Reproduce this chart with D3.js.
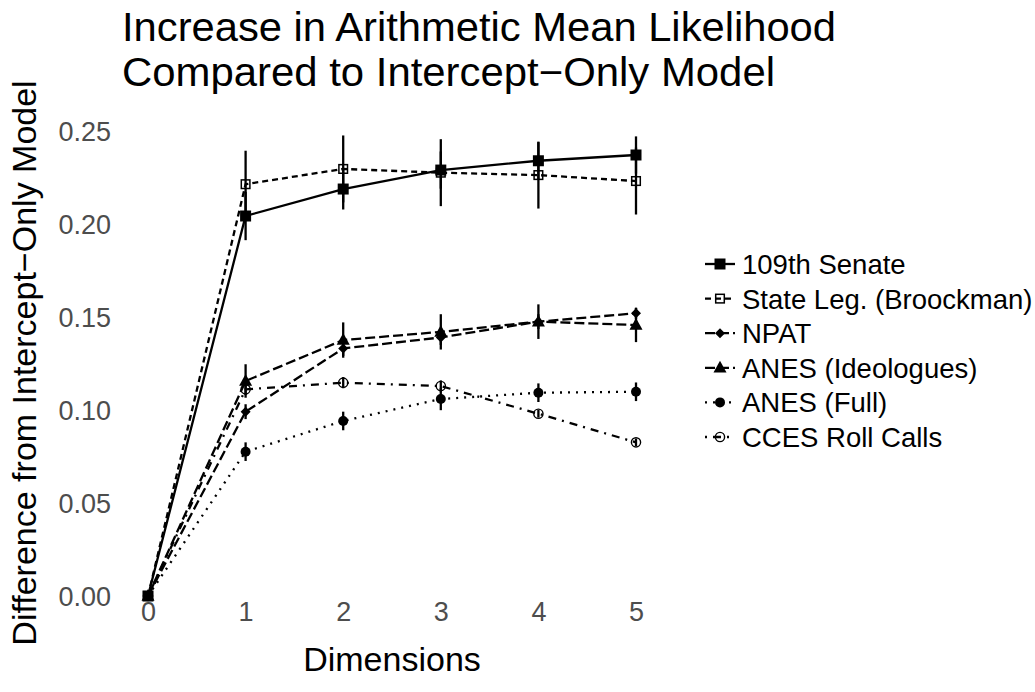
<!DOCTYPE html>
<html>
<head>
<meta charset="utf-8">
<script src="https://cdn.jsdelivr.net/npm/d3@7"></script>
<style>
  html, body { margin: 0; padding: 0; background: #fff; }
  svg { display: block; }
  text { font-family: "Liberation Sans", Arial, Helvetica, sans-serif; }
</style>
</head>
<body>
<svg id="chart" width="1035" height="692"></svg>
<script>
// ---- data ----
const dims = [0, 1, 2, 3, 4, 5];
const seriesNames = ["109th Senate", "State Leg. (Broockman)", "NPAT", "ANES (Ideologues)", "ANES (Full)", "CCES Roll Calls"];
const senate      = [0, 0.2043, 0.2188, 0.2290, 0.2340, 0.2371];
const senateErr   = [0, 0.013, 0.011, 0.010, 0.010, 0.010];
const stateLeg    = [0, 0.2214, 0.2296, 0.2276, 0.2263, 0.2231];
const stateLegErr = [0, 0.018, 0.018, 0.018, 0.018, 0.018];
const npat        = [0, 0.0991, 0.1331, 0.1390, 0.1475, 0.1520];
const npatErr     = [0, 0.004, 0.004, 0.004, 0.004, 0.003];
const anesIdeo    = [0, 0.1156, 0.1376, 0.1420, 0.1475, 0.1457];
const anesIdeoErr = [0, 0.009, 0.0095, 0.0095, 0.0093, 0.0092];
const anesFull    = [0, 0.0776, 0.0941, 0.1059, 0.1093, 0.1098];
const anesFullErr = [0, 0.005, 0.005, 0.006, 0.005, 0.005];
const cces        = [0, 0.1111, 0.1147, 0.1129, 0.0980, 0.0826];
const ccesErr     = [0, 0.003, 0.003, 0.003, 0.002, 0.002];
const yTicks = [0, 0.05, 0.10, 0.15, 0.20, 0.25];
const xTicks = [0, 1, 2, 3, 4, 5];

const values = [senate, stateLeg, npat, anesIdeo, anesFull, cces];
const errors = [senateErr, stateLegErr, npatErr, anesIdeoErr, anesFullErr, ccesErr];
const dashes = [null, "6,4", "10,4", "10,4", "2,6", "2,6,8,6"];
const shapes = ["square", "openSquare", "diamond", "triangle", "circle", "openCircle"];

const series = seriesNames.map((name, i) => ({
  name, dash: dashes[i], shape: shapes[i],
  pts: dims.map((d, j) => ({ x: d, y: values[i][j], e: errors[i][j] }))
}));

// ---- layout ----
const svg = d3.select("#chart");
const x = d3.scaleLinear().domain([-0.25, 5.25]).range([123.6, 660.4]);
const y = d3.scaleLinear().domain([0, 0.25]).range([596, 131]);
const LW = 2.3;

// title
svg.append("text").attr("x", 122).attr("y", 41).attr("font-size", 40).attr("fill", "#000")
  .attr("textLength", 714).attr("lengthAdjust", "spacingAndGlyphs")
  .text("Increase in Arithmetic Mean Likelihood");
svg.append("text").attr("x", 122).attr("y", 86).attr("font-size", 40).attr("fill", "#000")
  .attr("textLength", 653).attr("lengthAdjust", "spacingAndGlyphs")
  .text("Compared to Intercept\u2212Only Model");

// axes (labels only, no lines)
const yAxis = d3.axisLeft(y).tickValues(yTicks).tickFormat(d3.format(".2f")).tickSize(0).tickPadding(0);
const gy = svg.append("g").attr("transform", "translate(111,0)").call(yAxis);
gy.select(".domain").remove();
gy.selectAll("text").attr("font-size", 27).attr("fill", "#4d4d4d")
  .attr("font-family", "Liberation Sans, Arial, sans-serif").attr("dy", "0.36em");

const xAxis = d3.axisBottom(x).tickValues(xTicks).tickFormat(d3.format("d")).tickSize(0).tickPadding(0);
const gx = svg.append("g").attr("transform", "translate(0,601)").call(xAxis);
gx.select(".domain").remove();
gx.selectAll("text").attr("font-size", 27).attr("fill", "#4d4d4d")
  .attr("font-family", "Liberation Sans, Arial, sans-serif").attr("dy", "0.75em");

// axis titles
svg.append("text").attr("x", 392).attr("y", 671).attr("text-anchor", "middle")
  .attr("font-size", 34).attr("fill", "#000").text("Dimensions");
svg.append("text").attr("transform", "translate(36,363) rotate(-90)").attr("text-anchor", "middle")
  .attr("font-size", 34).attr("fill", "#000").text("Difference from Intercept\u2212Only Model");

// ---- marks ----
const line = d3.line().x(d => x(d.x)).y(d => y(d.y));
const plot = svg.append("g");

series.forEach(s => {
  plot.append("path").datum(s.pts).attr("d", line)
    .attr("fill", "none").attr("stroke", "#000").attr("stroke-width", LW)
    .attr("stroke-dasharray", s.dash);
});
series.forEach(s => {
  plot.selectAll(null).data(s.pts.filter(p => p.e > 0)).enter().append("line")
    .attr("x1", d => x(d.x)).attr("x2", d => x(d.x))
    .attr("y1", d => y(d.y - d.e)).attr("y2", d => y(d.y + d.e))
    .attr("stroke", "#000").attr("stroke-width", LW);
});

function drawShape(g, shape, cx, cy) {
  if (shape === "square") {
    g.append("rect").attr("x", cx - 5.5).attr("y", cy - 5.5).attr("width", 11).attr("height", 11).attr("fill", "#000");
  } else if (shape === "openSquare") {
    g.append("rect").attr("x", cx - 4.3).attr("y", cy - 4.3).attr("width", 8.6).attr("height", 8.6)
      .attr("fill", "#fff").attr("fill-opacity", 0).attr("stroke", "#000").attr("stroke-width", 1.5);
  } else if (shape === "diamond") {
    g.append("path").attr("d", `M${cx},${cy - 5}L${cx + 5},${cy}L${cx},${cy + 5}L${cx - 5},${cy}Z`).attr("fill", "#000");
  } else if (shape === "triangle") {
    g.append("path").attr("d", `M${cx},${cy - 7}L${cx + 6.5},${cy + 4.8}L${cx - 6.5},${cy + 4.8}Z`).attr("fill", "#000");
  } else if (shape === "circle") {
    g.append("circle").attr("cx", cx).attr("cy", cy).attr("r", 5).attr("fill", "#000");
  } else if (shape === "openCircle") {
    g.append("circle").attr("cx", cx).attr("cy", cy).attr("r", 4.6)
      .attr("fill", "none").attr("stroke", "#000").attr("stroke-width", 1.4);
  }
}
series.forEach(s => {
  const g = plot.append("g");
  s.pts.forEach(p => drawShape(g, s.shape, x(p.x), y(p.y)));
});

// ---- legend ----
const legend = svg.append("g");
const rowY = d3.scaleLinear().domain([0, 5]).range([264, 437]);
series.forEach((s, i) => {
  const cy = rowY(i);
  const g = legend.append("g");
  g.append("line").attr("x1", 705).attr("x2", 735).attr("y1", cy).attr("y2", cy)
    .attr("stroke", "#000").attr("stroke-width", LW).attr("stroke-dasharray", s.dash);
  drawShape(g, s.shape, 720, cy);
  g.append("text").attr("x", 742).attr("y", cy).attr("dy", "0.36em")
    .attr("font-size", 27.5).attr("fill", "#000").text(s.name);
});
</script>
</body>
</html>
